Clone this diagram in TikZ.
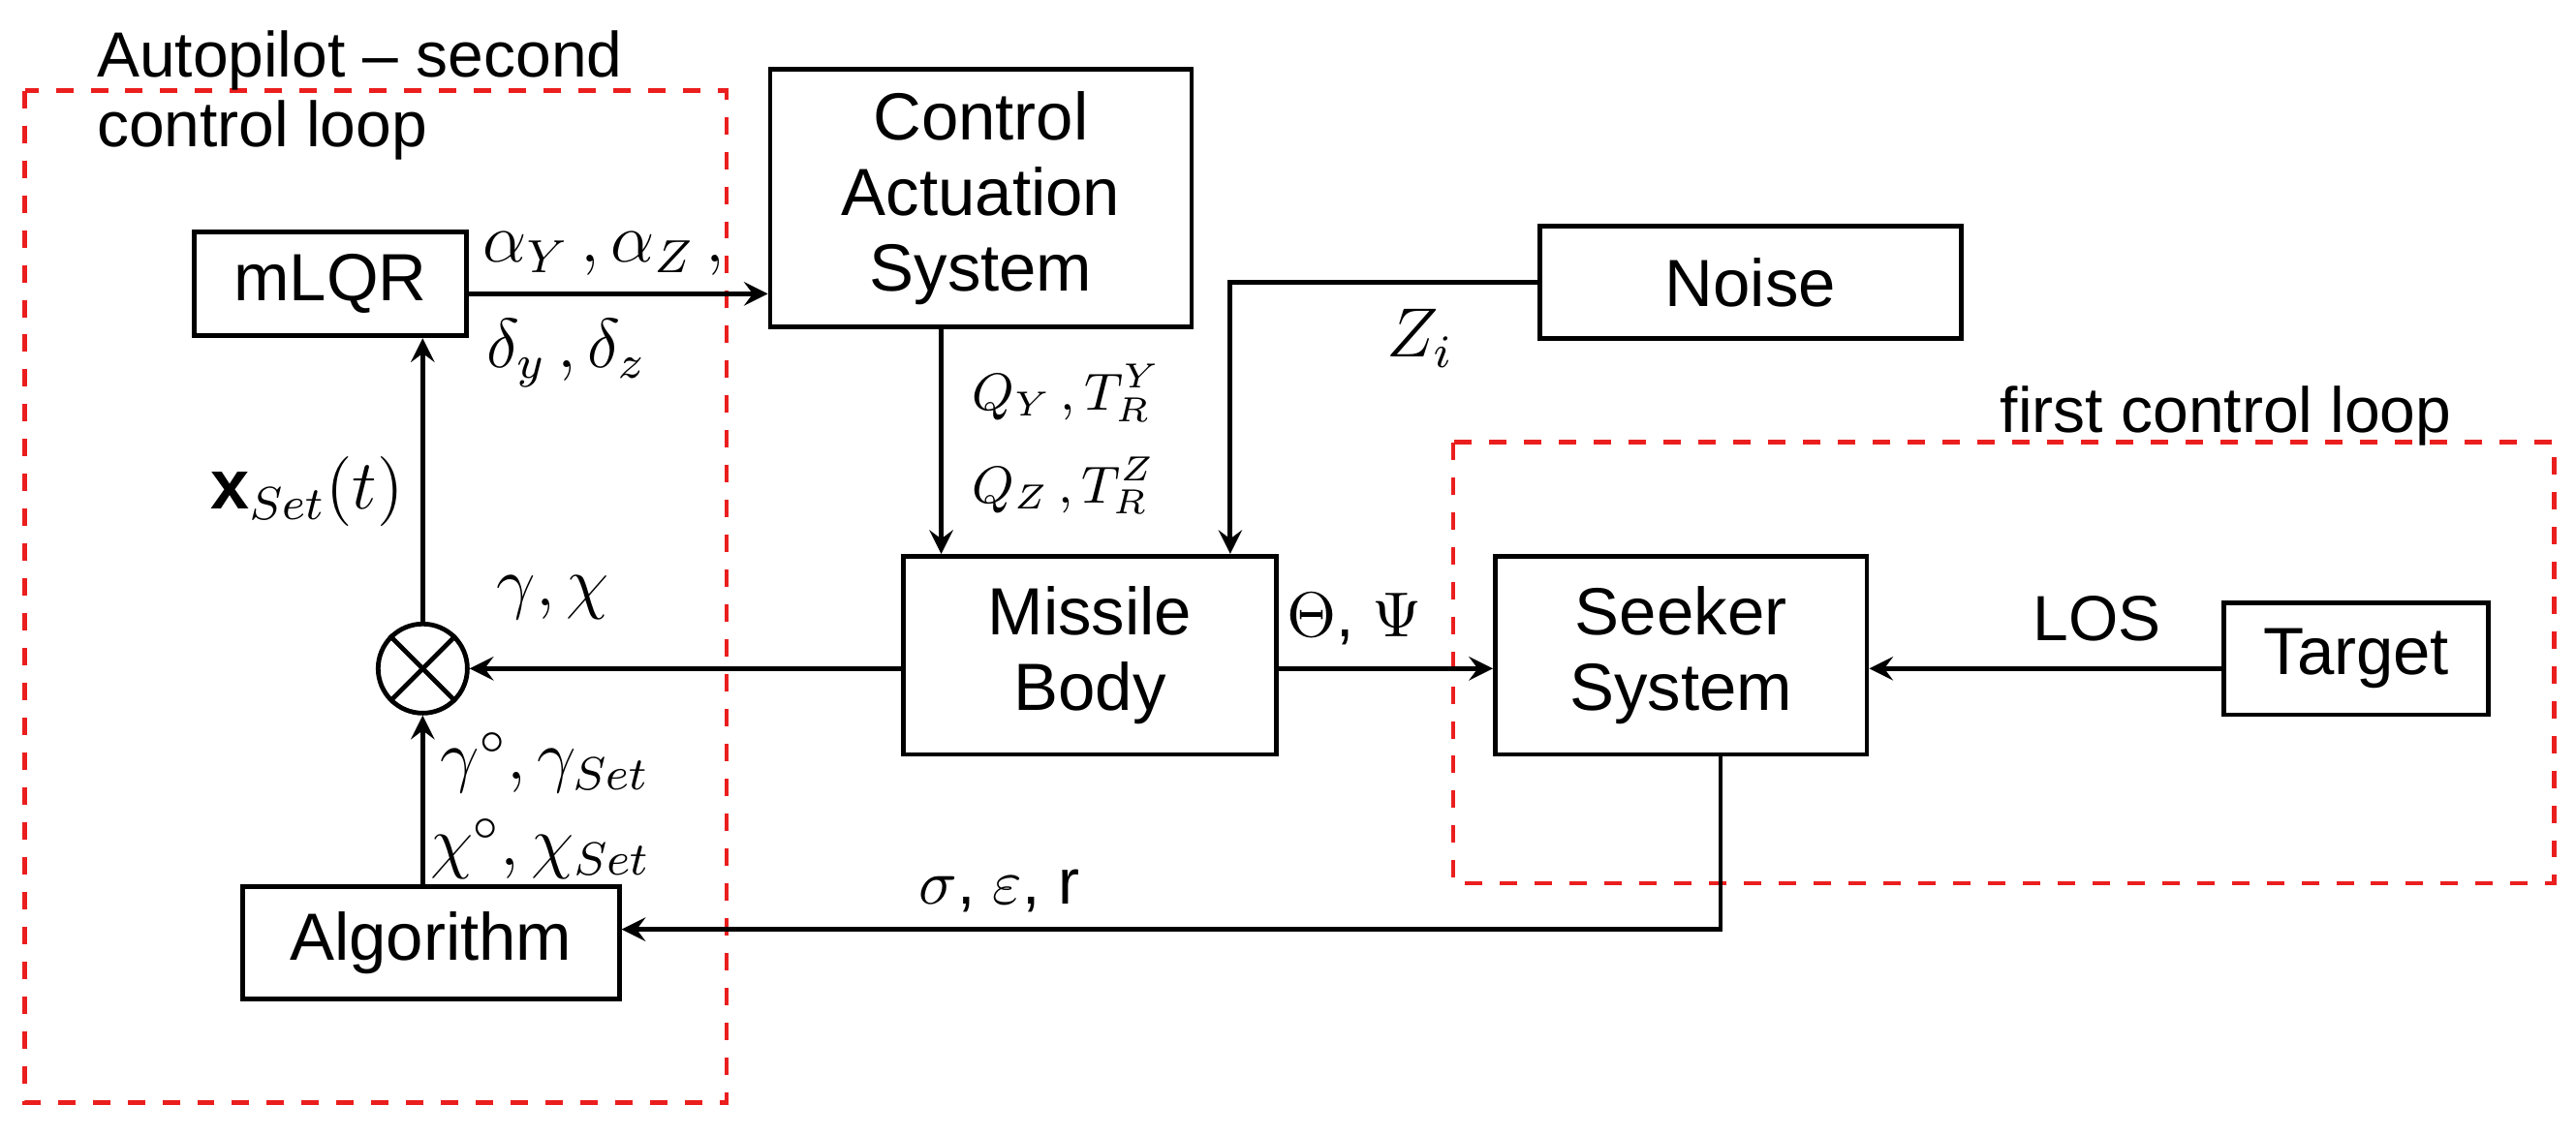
\documentclass[tikz,border=0pt]{standalone}
\usepackage{fontspec}
\setmainfont{Liberation Sans}
\usetikzlibrary{arrows, positioning}
\definecolor{loopred}{RGB}{235, 30, 30}

\begin{document}
\begin{tikzpicture}[x=0.01cm, y=-0.01cm,
        block/.style={rectangle, draw, thick, align=center, font=\fontsize{11.5}{13}\selectfont},
        arrow/.style={->, >=stealth, thick},
        loop/.style={draw=loopred, thick, dashed},
        lbl/.style={font=\fontsize{11}{12}\selectfont, inner sep=0pt}
    ]
        \useasboundingbox (0,0) rectangle (1560,688);
        % Blocks
        \node[block, minimum width=1.65cm, minimum height=0.63cm] (mlqr) at (200,172) {mLQR};
        \node[block, minimum width=2.55cm, minimum height=1.56cm] (cas) at (594,120) {Control\\Actuation\\System};
        \node[block, minimum width=2.55cm, minimum height=0.68cm] (noise) at (1060,171) {Noise};
        \node[block, minimum width=2.26cm, minimum height=1.2cm] (missile) at (660,397) {Missile\\Body};
        \node[block, minimum width=2.25cm, minimum height=1.2cm] (seeker) at (1018,397) {Seeker\\System};
        \node[block, minimum width=1.6cm, minimum height=0.68cm] (target) at (1427,399) {Target};
        \node[block, minimum width=2.28cm, minimum height=0.68cm] (algo) at (261,571) {Algorithm};
        \node[circle, draw, thick, minimum size=0.54cm, inner sep=0pt] (mix) at (256,405) {};
        \draw[thick] (mix.north west) -- (mix.south east) (mix.north east) -- (mix.south west);

        % Loops
        \draw[loop] (15,55) rectangle (440,668);
        \draw[loop] (880,268) rectangle (1547,535);
        \node[lbl, anchor=north west, align=left] (aplbl) at (58,18) {Autopilot -- second\\control loop};
        \node[lbl] (fclbl) at (1348,252) {first control loop};

        % Arrows
        \coordinate (casin) at (cas.west |- 0,178);
        \draw[arrow] (mlqr.east |- casin) -- (casin);
        \draw[arrow] (cas.south -| 570,0) -- (missile.north -| 570,0);
        \coordinate (nbend) at (745,171);
        \draw[arrow] (noise.west) -- (nbend) -- (missile.north -| nbend);
        \draw[arrow] (missile.west |- mix) -- (mix.east);
        \draw[arrow] (missile.east |- 0,405) -- (seeker.west |- 0,405);
        \draw[arrow] (target.west |- 0,405) -- (seeker.east |- 0,405);
        \coordinate (sbend) at (1042,563);
        \draw[arrow] (seeker.south -| sbend) -- (sbend) -- (algo.east |- sbend);
        \draw[arrow] (algo.north -| mix) -- (mix.south);
        \draw[arrow] (mix.north) -- (mlqr.south -| mix);

        % Labels
        \node[lbl, anchor=west] (l1) at (292,154) {\large$\alpha_Y\,,\alpha_Z\,,$};
        \node[lbl, anchor=west] (l2) at (294,214) {\large$\delta_y\,,\delta_z$};
        \node[lbl, anchor=west] (l3) at (588,238) {\small$Q_Y\,,T_R^Y$};
        \node[lbl, anchor=west] (l4) at (588,294) {\small$Q_Z\,,T_R^Z$};
        \node[lbl] (l5) at (860,205) {\large$Z_i$};
        \node[lbl] (l6) at (335,362) {\large$\gamma,\chi$};
        \node[lbl] (l7) at (186,298) {\large$\mathbf{x}_{Set}(t)$};
        \node[lbl] (l8) at (820,375) {$\Theta$, $\Psi$};
        \node[lbl] (l9) at (1270,375) {LOS};
        \node[lbl, anchor=west] (l10) at (266,462) {\large$\gamma^\circ,\gamma_{Set}$};
        \node[lbl, anchor=west] (l11) at (260,514) {\large$\chi^\circ,\chi_{Set}$};
        \node[lbl] (l12) at (605,540) {$\sigma$, $\varepsilon$, r};
    \end{tikzpicture}
\end{document}
